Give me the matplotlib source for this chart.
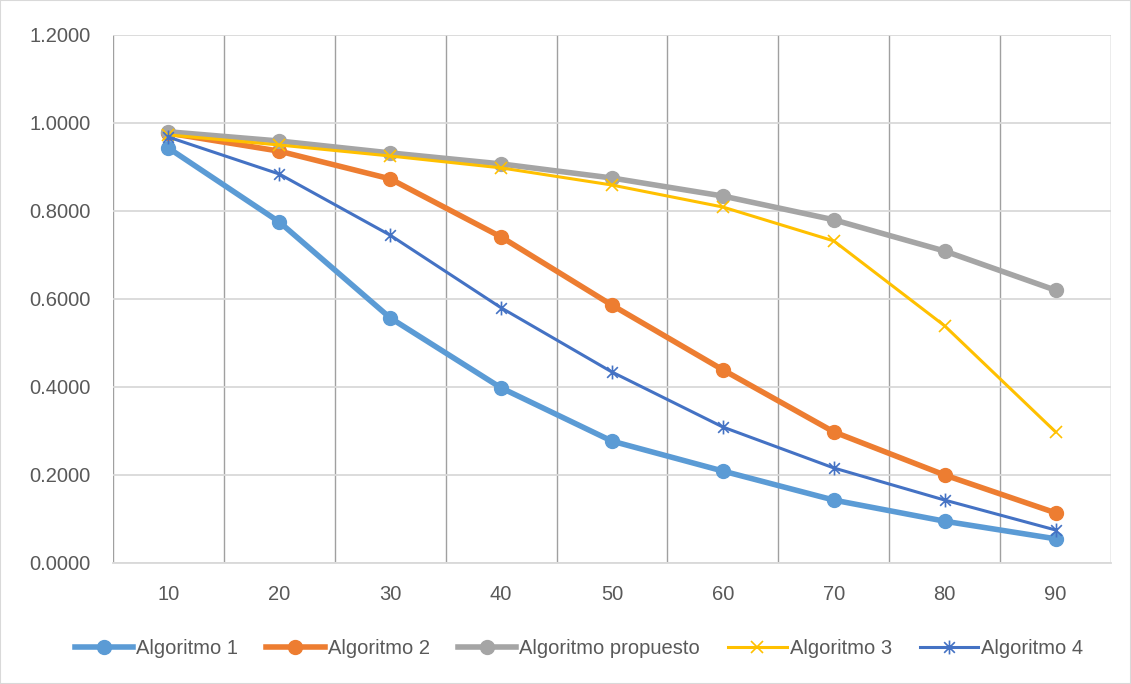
import numpy as np
import matplotlib.pyplot as plt
from matplotlib.path import Path
from matplotlib.ticker import FormatStrFormatter

categories = ['10', '20', '30', '40', '50', '60', '70', '80', '90']

alg1 = [0.943, 0.775, 0.557, 0.398, 0.277, 0.209, 0.143, 0.095, 0.055]
alg2 = [0.977, 0.936, 0.873, 0.741, 0.586, 0.439, 0.298, 0.200, 0.114]
propuesto = [0.980, 0.959, 0.932, 0.907, 0.875, 0.834, 0.780, 0.709, 0.620]
alg3 = [0.973, 0.950, 0.925, 0.898, 0.859, 0.809, 0.732, 0.539, 0.298]
alg4 = [0.968, 0.884, 0.745, 0.580, 0.434, 0.309, 0.216, 0.143, 0.075]

plt.rcParams['font.family'] = ['Liberation Sans', 'DejaVu Sans']

# asterisk marker: an x with a vertical stroke
star = Path([(-1, -1), (1, 1), (-1, 1), (1, -1), (0, -1.3), (0, 1.3)],
            [Path.MOVETO, Path.LINETO, Path.MOVETO, Path.LINETO,
             Path.MOVETO, Path.LINETO])

fig = plt.figure(figsize=(11.31, 6.84), dpi=100)
ax = fig.add_axes([113 / 1131, 1 - 563 / 684, 998 / 1131, 528 / 684])

x = np.arange(len(categories))

ax.plot(x, alg1, color='#5B9BD5', lw=4, marker='o', ms=10, label='Algoritmo 1', zorder=3)
ax.plot(x, alg2, color='#ED7D31', lw=4, marker='o', ms=10, label='Algoritmo 2', zorder=3)
ax.plot(x, propuesto, color='#A5A5A5', lw=4, marker='o', ms=10,
        label='Algoritmo propuesto', zorder=3)
ax.plot(x, alg3, color='#FFC000', lw=2.2, marker='x', ms=9, mew=1.2,
        label='Algoritmo 3', zorder=3)
ax.plot(x, alg4, color='#4472C4', lw=2.2, marker=star, ms=10, mew=1.2,
        mfc='none', label='Algoritmo 4', zorder=3)

ax.set_xlim(-0.5, len(categories) - 0.5)
ax.set_ylim(0, 1.2)
ax.set_yticks(np.arange(0, 1.21, 0.2))
ax.yaxis.set_major_formatter(FormatStrFormatter('%.4f'))
ax.set_xticks(x)
ax.set_xticklabels(categories)
ax.set_xticks(np.arange(-0.5, len(categories), 1), minor=True)

ax.grid(axis='y', which='major', color='#D9D9D9', lw=1.3)
ax.grid(axis='x', which='minor', color='#A0A0A0', lw=1.0)
ax.tick_params(which='both', length=0, labelsize=14.5, colors='#595959')
ax.tick_params(axis='x', pad=16)
ax.tick_params(axis='y', pad=16)
for side in ['top', 'right', 'left']:
    ax.spines[side].set_visible(False)
ax.spines['bottom'].set_color('#D9D9D9')
ax.spines['bottom'].set_linewidth(1.3)
ax.set_axisbelow(True)

leg = fig.legend(loc='lower center', bbox_to_anchor=(0.512, 0.012), ncol=5,
                 frameon=False, fontsize=14.5, handlelength=2.9,
                 handletextpad=0.15, columnspacing=1.4)
for t in leg.get_texts():
    t.set_color('#595959')

fig.patches.append(plt.Rectangle((0, 0), 1, 1, transform=fig.transFigure,
                                 fill=False, ec='#D9D9D9', lw=1.5))

fig.savefig('out.png', dpi=100)
